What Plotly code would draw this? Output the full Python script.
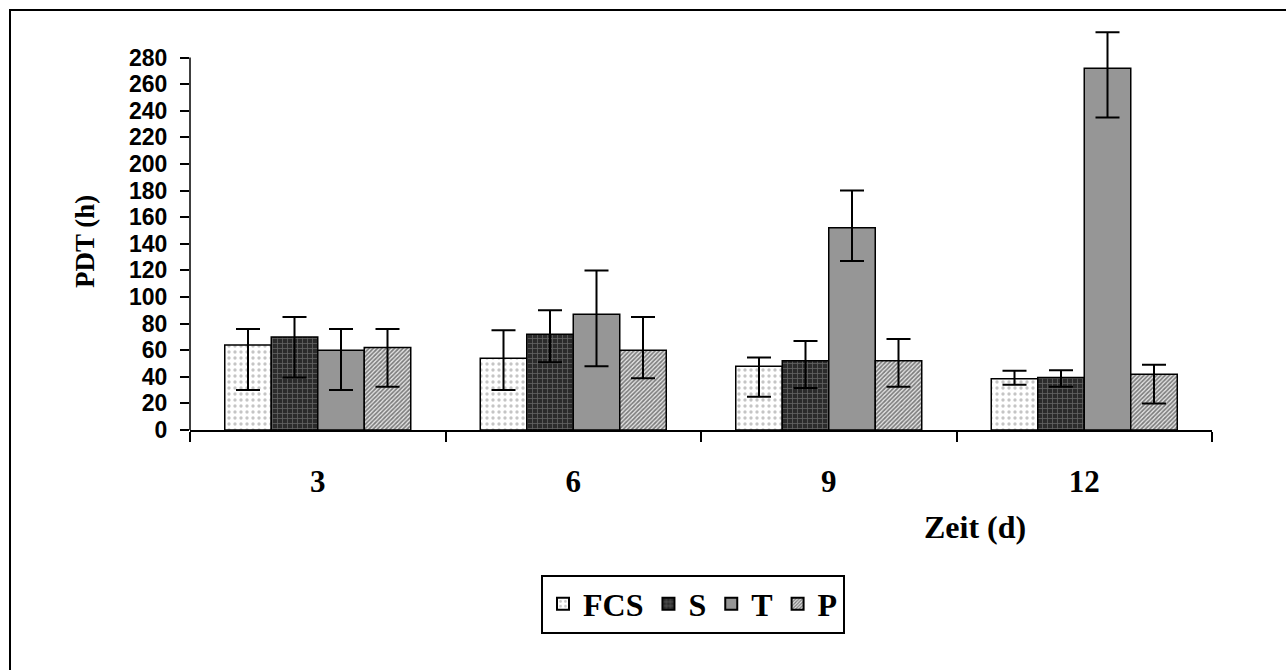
import plotly.graph_objects as go

categories = ["3", "6", "9", "12"]
series_names = ["FCS", "S", "T", "P"]

fcs_vals = [64, 54, 48, 38.5]
fcs_plus = [12, 21, 6.5, 6]
fcs_minus = [34, 24, 23, 4.5]

s_vals = [70, 72, 52, 39.5]
s_plus = [15, 18, 15, 5.5]
s_minus = [30.5, 21, 20.5, 7]

t_vals = [60, 87, 152, 272]
t_plus = [16, 33, 28, 27]
t_minus = [30, 39, 25, 37]

p_vals = [62, 60, 52, 42]
p_plus = [14, 25, 16.5, 7]
p_minus = [29.5, 21, 19.5, 22]

y_ticks = list(range(0, 281, 20))

styles = {
    "FCS": dict(color="white", pattern=dict(shape=".", fgcolor="#8c8c8c", bgcolor="white", size=6, solidity=0.25)),
    "S": dict(color="#333333", pattern=dict(shape="+", fgcolor="#9a9a9a", bgcolor="#2b2b2b", size=5, solidity=0.3)),
    "T": dict(color="#969696"),
    "P": dict(color="#888888", pattern=dict(shape="/", fgcolor="#111111", bgcolor="#e6e6e6", size=3, solidity=0.55)),
}

data = [
    ("FCS", fcs_vals, fcs_plus, fcs_minus),
    ("S", s_vals, s_plus, s_minus),
    ("T", t_vals, t_plus, t_minus),
    ("P", p_vals, p_plus, p_minus),
]

fig = go.Figure()
for name, vals, plus, minus in data:
    st = styles[name]
    marker = dict(color=st["color"], line=dict(color="black", width=1.5))
    if "pattern" in st:
        marker["pattern"] = st["pattern"]
    fig.add_trace(go.Bar(
        name=name, x=categories, y=vals, marker=marker,
        error_y=dict(type="data", symmetric=False, array=plus, arrayminus=minus,
                     color="black", thickness=2, width=12),
    ))

W, H = 1286, 670
L, R, T, B = 190, 74, 31, 240
pw, ph = W - L - R, H - T - B

def px_x(x):
    return (x - L) / pw

def px_y(y):
    return (H - B - y) / ph

fig.update_layout(
    width=W, height=H,
    margin=dict(l=L, r=R, t=T, b=B, pad=0),
    paper_bgcolor="white", plot_bgcolor="white",
    barmode="group", bargap=0.272, bargroupgap=0,
    showlegend=True,
    legend=dict(orientation="h", x=px_x(693), y=px_y(604), xanchor="center", yanchor="middle",
                bordercolor="black", borderwidth=2, bgcolor="white",
                font=dict(family="Liberation Serif", size=32, color="black", weight="bold"),
                itemsizing="constant", tracegroupgap=0, itemwidth=30),
    xaxis=dict(type="category", showline=True, linecolor="black", linewidth=1.5,
               ticks="outside", tickson="boundaries", ticklen=10, tickwidth=1.5, tickcolor="black",
               showgrid=False, ticklabelstandoff=23,
               tickfont=dict(family="Liberation Serif", size=31, color="black", weight="bold")),
    yaxis=dict(range=[0, 300], showline=False, showgrid=False, zeroline=False,
               tickvals=y_ticks, ticktext=[str(v) for v in y_ticks],
               ticks="outside", ticklen=9, tickwidth=1.5, tickcolor="black",
               ticklabelstandoff=8,
               tickfont=dict(family="Liberation Sans", size=23, color="black", weight="bold")),
    font=dict(family="Liberation Serif", color="black"),
    shapes=[
        dict(type="line", xref="paper", yref="y", x0=0, x1=0, y0=0, y1=280,
             line=dict(color="black", width=1.5)),
        dict(type="rect", xref="paper", yref="paper", x0=px_x(10), x1=px_x(1300),
             y0=px_y(700), y1=px_y(10), line=dict(color="black", width=2)),
    ],
    annotations=[
        dict(text="PDT (h)", xref="paper", yref="paper", x=px_x(85), y=px_y(242),
             textangle=-90, showarrow=False, xanchor="center", yanchor="middle",
             font=dict(family="Liberation Serif", size=27, color="black", weight="bold")),
        dict(text="Zeit (d)", xref="paper", yref="paper", x=px_x(975), y=px_y(527),
             showarrow=False, xanchor="center", yanchor="middle",
             font=dict(family="Liberation Serif", size=32, color="black", weight="bold")),
    ],
)

fig.write_html("out.html")
